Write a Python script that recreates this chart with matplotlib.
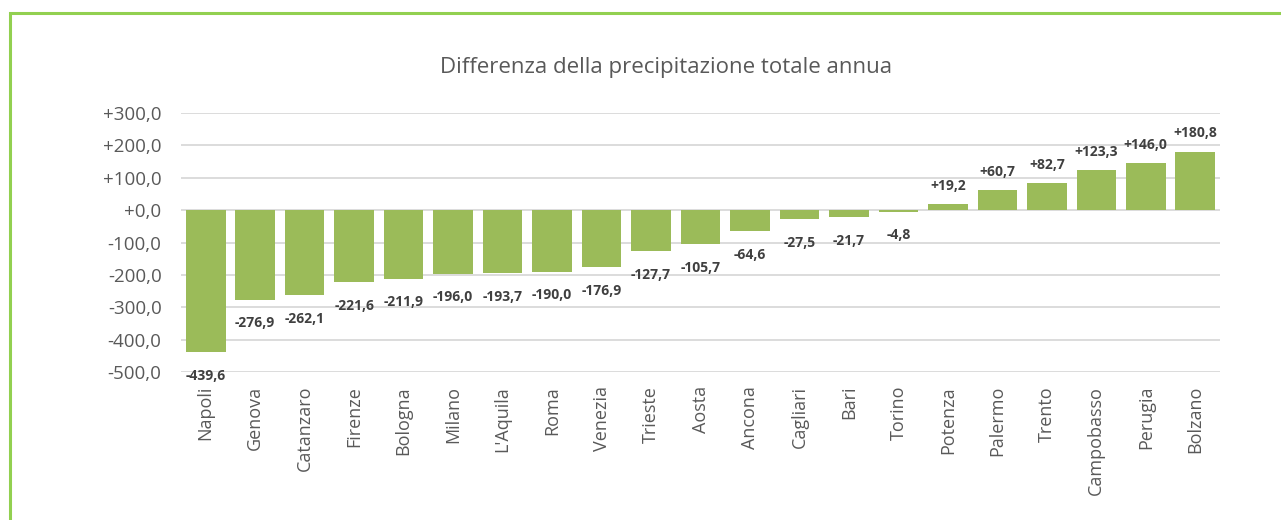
import matplotlib
matplotlib.use("Agg")
import matplotlib.pyplot as plt
from matplotlib.patches import Rectangle
from matplotlib.ticker import FuncFormatter, MultipleLocator

cities = ["Napoli", "Genova", "Catanzaro", "Firenze", "Bologna", "Milano",
          "L'Aquila", "Roma", "Venezia", "Trieste", "Aosta", "Ancona",
          "Cagliari", "Bari", "Torino", "Potenza", "Palermo", "Trento",
          "Campobasso", "Perugia", "Bolzano"]
diff = [-439.6, -276.9, -262.1, -221.6, -211.9, -196.0, -193.7, -190.0,
        -176.9, -127.7, -105.7, -64.6, -27.5, -21.7, -4.8, 19.2, 60.7,
        82.7, 123.3, 146.0, 180.8]
title = "Differenza della precipitazione totale annua"

plt.rcParams['font.family'] = ['Open Sans', 'DejaVu Sans']

W, H = 1281, 520
fig = plt.figure(figsize=(W / 100, H / 100), dpi=100)
fig.patch.set_facecolor("white")

# green frame around the chart area
fig.patches.append(Rectangle((10 / W, -0.1), 1.2, 1 - 12.5 / H + 0.1,
                             transform=fig.transFigure, fill=False,
                             edgecolor="#92D050", linewidth=2.2))

left, right = 181 / W, 1220 / W
top, bottom = 1 - 113 / H, 1 - 372 / H
ax = fig.add_axes([left, bottom, right - left, top - bottom])

x = range(len(cities))
ax.bar(x, diff, width=0.8, color="#9BBB59", zorder=3)

ax.set_xlim(-0.5, len(cities) - 0.5)
ax.set_ylim(-500, 300)
ax.yaxis.set_major_locator(MultipleLocator(100))
ax.yaxis.set_major_formatter(FuncFormatter(
    lambda v, _: f"{v:+.1f}".replace(".", ",")))
ax.grid(axis="y", color="#D9D9D9", linewidth=1.3, zorder=0)
for s in ax.spines.values():
    s.set_visible(False)
ax.tick_params(axis="both", length=0, colors="#595959")
ax.tick_params(axis="y", pad=14, labelsize=13.5)
ax.tick_params(axis="x", pad=10, labelsize=13)
ax.set_xticks(list(x))
ax.set_xticklabels(cities, rotation=90, va="top", ha="center")

for xi, v in zip(x, diff):
    label = f"{v:+.1f}".replace(".", ",")
    if v >= 0:
        ax.annotate(label, (xi, v), xytext=(0, 8), textcoords="offset points",
                    ha="center", va="bottom", fontsize=10, fontweight="bold",
                    color="#404040")
    else:
        ax.annotate(label, (xi, v), xytext=(0, -12), textcoords="offset points",
                    ha="center", va="top", fontsize=10, fontweight="bold",
                    color="#404040")

fig.text((440 + 893) / 2 / W, 1 - 68 / H, title, ha="center", va="center",
         fontsize=16, color="#595959")

fig.savefig("out.png", dpi=100)
